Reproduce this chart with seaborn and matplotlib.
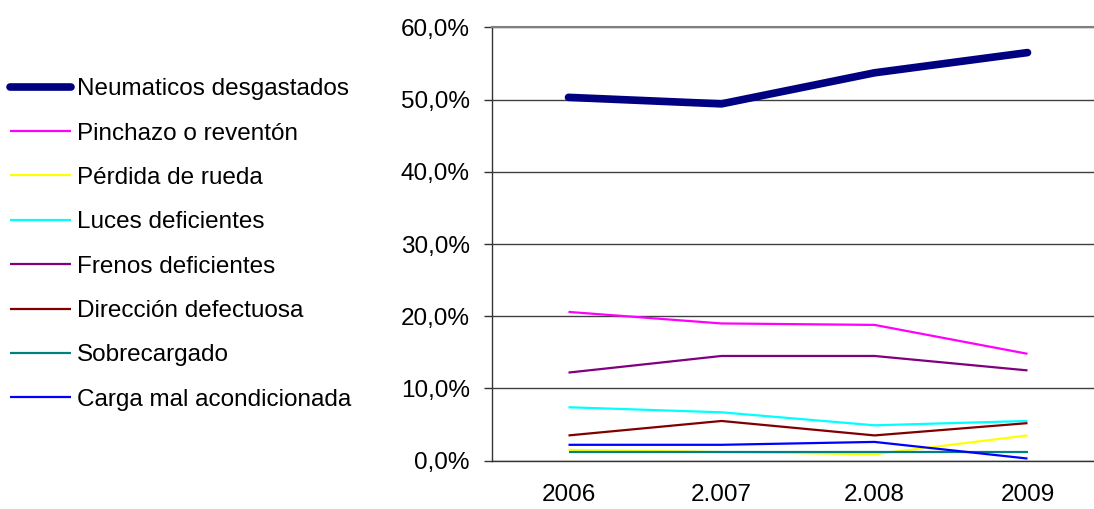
import pandas as pd
import matplotlib
matplotlib.use('Agg')
import matplotlib.pyplot as plt
import seaborn as sns
from matplotlib.ticker import FuncFormatter, FixedLocator

# data (percent)
years = ['2006', '2.007', '2.008', '2009']
series_names = ['Neumaticos desgastados', 'Pinchazo o reventón', 'Pérdida de rueda',
                'Luces deficientes', 'Frenos deficientes', 'Dirección defectuosa',
                'Sobrecargado', 'Carga mal acondicionada']
neumaticos = [50.3, 49.4, 53.7, 56.5]
pinchazo = [20.6, 19.0, 18.8, 14.8]
perdida = [1.5, 1.2, 0.9, 3.5]
luces = [7.4, 6.7, 4.9, 5.5]
frenos = [12.2, 14.5, 14.5, 12.5]
direccion = [3.5, 5.5, 3.5, 5.2]
sobrecargado = [1.2, 1.2, 1.2, 1.2]
carga = [2.2, 2.2, 2.6, 0.3]
colors = ['#000080', '#FF00FF', '#FFFF00', '#00FFFF', '#800080', '#800000', '#008080', '#0000FF']

values = [neumaticos, pinchazo, perdida, luces, frenos, direccion, sobrecargado, carga]
rows = []
for name, vals in zip(series_names, values):
    for i, (y, v) in enumerate(zip(years, vals)):
        rows.append({'serie': name, 'pos': i, 'year': y, 'pct': v / 100})
df = pd.DataFrame(rows)

sns.set_style('white')
plt.rcParams['font.family'] = ['Liberation Sans', 'DejaVu Sans']
plt.rcParams['text.color'] = 'black'
plt.rcParams['xtick.color'] = 'black'
plt.rcParams['ytick.color'] = 'black'

fig = plt.figure(figsize=(10.94, 5.09), dpi=100)
ax = fig.add_axes([492 / 1094, 1 - 460.7 / 509, 612 / 1094, (460.7 - 27.3) / 509])

for name, col in zip(series_names, colors):
    d = df[df['serie'] == name]
    lw = 5.5 if name == 'Neumaticos desgastados' else 1.6
    sns.lineplot(data=d, x='pos', y='pct', ax=ax, color=col, linewidth=lw,
                 label=name, sort=False, solid_capstyle='round' if lw > 2 else 'butt')

ax.set_xlim(-0.5, 3.5)
ax.set_ylim(0, 0.6)
ax.set_xlabel('')
ax.set_ylabel('')

fs = 17.5
ax.yaxis.set_major_locator(FixedLocator([i / 10 for i in range(7)]))
ax.yaxis.set_major_formatter(FuncFormatter(lambda v, p: f'{v * 100:.1f}%'.replace('.', ',')))
ax.xaxis.set_major_locator(FixedLocator(range(len(years))))
ax.set_xticklabels(years)
ax.xaxis.set_minor_locator(FixedLocator([-0.5, 0.5, 1.5, 2.5]))
ax.tick_params(axis='x', which='major', length=0, pad=17, labelsize=fs, labelcolor='black')
ax.tick_params(axis='x', which='minor', length=6, width=1, color='#333333', direction='out')
ax.tick_params(axis='y', which='major', length=6, width=1, color='#333333', direction='out',
               left=True, labelsize=fs, pad=10, labelcolor='black')

ax.grid(axis='y', color='#404040', linewidth=1)
ax.set_axisbelow(True)
ax.spines['right'].set_visible(False)
ax.spines['top'].set_color('#808080')
ax.spines['top'].set_linewidth(1.5)
for s in ['left', 'bottom']:
    ax.spines[s].set_color('#333333')
    ax.spines[s].set_linewidth(1)

handles, labels = ax.get_legend_handles_labels()
ax.get_legend().remove()
leg = fig.legend(handles, labels, loc='center left', bbox_to_anchor=(0.009, 1 - 244.5 / 509),
                 frameon=False, fontsize=fs, handlelength=2.5, handletextpad=0.25,
                 labelspacing=0.92, borderpad=0, borderaxespad=0)
for t in leg.get_texts():
    t.set_color('black')

fig.savefig('out.png', dpi=100, facecolor='white')
